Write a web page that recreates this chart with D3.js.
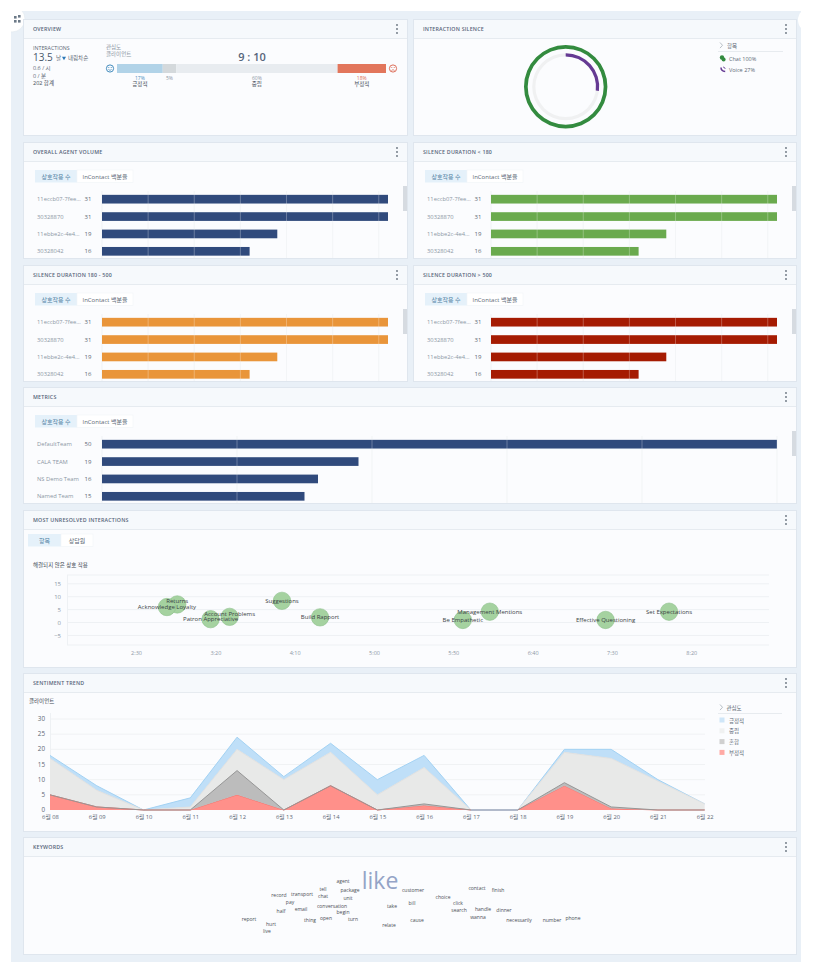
<!DOCTYPE html>
<html>
<head>
<meta charset="utf-8">
<script src="https://cdn.jsdelivr.net/npm/d3@7"></script>
<style>
  body { margin: 0; background: #fff; }
  svg { display: block; }
  text { font-family: "Open Sans", "Noto Sans CJK KR", sans-serif; }
  .axis path, .axis line { display: none; }
</style>
</head>
<body>
<svg id="board" width="813" height="975"></svg>
<script>
// overview
const sentimentNames = ['긍정적', '', '중립', '부정적'];
const sentimentShares = [17, 5, 60, 18];
const overviewLines = ['0.6 / 시', '0 / 분', '202 합계'];

// interaction silence
const channelNames = ['Chat', 'Voice'];
const channelShares = [100, 27];

// bar panels
const agentNames = ['11eccb07-7fee...', '30328870', '11ebbe2c-4e4...', '30328042'];
const agentCounts = [31, 31, 19, 16];
const teamNames = ['DefaultTeam', 'CALA TEAM', 'NS Demo Team', 'Named Team'];
const teamCounts = [50, 19, 16, 15];

// unresolved interactions
const topicNames = ['Returns', 'Acknowledge Loyalty', 'Patron Appreciative', 'Account Problems', 'Suggestions',
  'Build Rapport', 'Be Empathetic', 'Management Mentions', 'Effective Questioning', 'Set Expectations'];
const topicSeconds = [176, 169.5, 197, 209, 242, 266, 356, 373, 446, 486];
const topicUnresolved = [7, 6, 1.3, 2.2, 8.4, 2, 1, 4.2, 1, 4.2];
const topicTickSeconds = [150, 200, 250, 300, 350, 400, 450, 500];
const topicTickLabels = ['2:30', '3:20', '4:10', '5:00', '5:50', '6:40', '7:30', '8:20'];
const topicYTicks = [-5, 0, 5, 10, 15];

// sentiment trend
const trendDays = ['6월 08', '6월 09', '6월 10', '6월 11', '6월 12', '6월 13', '6월 14', '6월 15',
  '6월 16', '6월 17', '6월 18', '6월 19', '6월 20', '6월 21', '6월 22'];
const trendNegative = [5, 1, 0, 0, 5, 0, 8, 0, 1.5, 0, 0, 8, 0.5, 0, 0];
const trendMixed =    [0, 0, 0, 0, 8, 0, 0, 0, 0.5, 0, 0, 1, 0.5, 0, 0];
const trendNeutral =  [12, 5.5, 0, 1, 7, 10, 11, 5, 12, 0, 0, 10, 16, 9.5, 2];
const trendPositive = [1, 1.5, 0, 3, 4, 1, 3, 5, 4, 0, 0, 1, 3, 0.5, 0];
const trendYTicks = [0, 5, 10, 15, 20, 25, 30];

// keywords
const keywords = ['like', 'agent', 'package', 'customer', 'contact', 'finish', 'tell', 'record', 'transport', 'chat',
  'unit', 'choice', 'pay', 'bill', 'click', 'conversation', 'take', 'email', 'half', 'begin', 'search', 'handle',
  'dinner', 'wanna', 'report', 'open', 'turn', 'thing', 'cause', 'necessarily', 'number', 'phone', 'hurt', 'relate', 'live'];
const keywordCounts = keywords.map(w => w === 'like' ? 8 : 1);

// where the cloud put each word, in page pixels (same order as keywords)
const cloudSpots = [[380, 889], [343, 883], [350, 892], [413, 892], [477, 890], [498, 892], [323, 891], [279, 897], [302, 896],
  [323, 898], [348, 900], [443, 899], [290, 904], [412, 905], [458, 905], [332, 908], [392, 908], [301, 911], [281, 913],
  [343, 914], [459, 912], [483, 911], [504, 912], [478, 919], [249, 921], [326, 920], [353, 921], [310, 922], [417, 922],
  [519, 922], [552, 922], [573, 920], [271, 926], [389, 927], [267, 933]];

const svg = d3.select('#board');
const TEXT = '#5b6875';
const MUTED = '#8b97a4';

// page background and the two corner tabs
svg.append('rect').attr('x', 11).attr('y', 11).attr('width', 790).attr('height', 951).attr('fill', '#e9f0f7');
svg.append('circle').attr('cx', 12).attr('cy', 19).attr('r', 13).attr('fill', '#fff').attr('stroke', '#dde5ed').attr('stroke-width', 0.6);
svg.append('rect').attr('x', 0).attr('y', 0).attr('width', 11).attr('height', 40).attr('fill', '#fff');
svg.append('rect').attr('x', 0).attr('y', 0).attr('width', 30).attr('height', 11).attr('fill', '#fff');
svg.append('circle').attr('cx', 810).attr('cy', 20).attr('r', 12).attr('fill', '#fff');
[[14, 16], [18, 16], [14, 20], [18, 20]].forEach((p, i) => {
  svg.append('rect').attr('x', p[0]).attr('y', p[1] + (i == 1 ? -1 : 0)).attr('width', 2.6).attr('height', 2.6)
    .attr('fill', '#6c7a88');
});

function label(g, x, y, str, size, color, anchor, weight) {
  return g.append('text').attr('x', x).attr('y', y).attr('font-size', size).attr('fill', color || TEXT)
    .attr('text-anchor', anchor || 'start').attr('font-weight', weight || 400).text(str);
}

let clipId = 0;
function panel(x, y, w, h, title) {
  const id = 'clip' + (clipId++);
  svg.append('clipPath').attr('id', id).append('rect').attr('x', x).attr('y', y).attr('width', w).attr('height', h);
  svg.append('rect').attr('x', x - 0.5).attr('y', y - 0.5).attr('width', w + 1).attr('height', h + 1)
    .attr('fill', 'none').attr('stroke', '#dfe6ee');
  const g = svg.append('g').attr('clip-path', `url(#${id})`);
  g.append('rect').attr('x', x).attr('y', y).attr('width', w).attr('height', h).attr('fill', '#fbfcfe');
  g.append('rect').attr('x', x).attr('y', y).attr('width', w).attr('height', 18).attr('fill', '#f6f9fc');
  g.append('line').attr('x1', x).attr('x2', x + w).attr('y1', y + 18.5).attr('y2', y + 18.5).attr('stroke', '#e6ebf0');
  label(g, x + 9, y + 11, title, 5.3, '#56657a', 'start', 600).attr('letter-spacing', 0.2);
  [5, 9, 13].forEach(d => {
    g.append('circle').attr('cx', x + w - 10).attr('cy', y + d).attr('r', 0.9).attr('fill', '#66717d');
  });
  return g;
}

function tabs(g, x, y, names, widths) {
  let cur = x;
  names.forEach((n, i) => {
    g.append('rect').attr('x', cur).attr('y', y).attr('width', widths[i]).attr('height', 12.5)
      .attr('fill', i == 0 ? '#e5f1fa' : '#fff').attr('stroke', i == 0 ? 'none' : '#f1f4f7').attr('stroke-width', 0.6);
    label(g, cur + widths[i] / 2, y + 8.5, n, 6, i == 0 ? '#4f7fa3' : TEXT, 'middle');
    cur += widths[i];
  });
}

function barPanel(x, y, w, h, title, names, counts, color, opt) {
  const g = panel(x, y, w, h, title);
  tabs(g, x + 11, y + 27, ['상호작용 수', 'InContact 백분율'], [42, 56]);

  const xScale = d3.scaleLinear().domain([0, d3.max(counts)]).range([x + opt.barLeft, x + opt.barRight]);
  const yScale = d3.scaleBand().domain(names).range([y + 47.5, y + 117]).paddingInner(0.5).paddingOuter(0.25);

  const ticks = d3.range(0, d3.max(counts) + 1, opt.step);
  g.selectAll('.grid').data(ticks).join('line')
    .attr('x1', d => xScale(d)).attr('x2', d => xScale(d))
    .attr('y1', y + 48).attr('y2', y + h).attr('stroke', '#eff2f5');

  g.selectAll('.bar').data(counts).join('rect')
    .attr('x', xScale(0)).attr('y', (d, i) => yScale(names[i]))
    .attr('width', d => xScale(d) - xScale(0)).attr('height', yScale.bandwidth())
    .attr('fill', color);

  // grid shows through the bars as thin pale lines
  g.selectAll('.over').data(ticks.slice(1)).join('line')
    .attr('x1', d => xScale(d)).attr('x2', d => xScale(d))
    .attr('y1', y + 48).attr('y2', y + h).attr('stroke', '#fff').attr('stroke-opacity', 0.28);

  names.forEach((n, i) => {
    const mid = yScale(n) + yScale.bandwidth() / 2 + 2;
    label(g, x + 13, mid, n, 5.8, MUTED);
    label(g, x + 64, mid, counts[i], 6, TEXT, 'middle');
  });

  g.append('rect').attr('x', x + w - 4).attr('y', y + 43).attr('width', 4).attr('height', 25).attr('fill', '#d6dbe1');
}

// ---- overview ----
{
  const g = panel(24, 20, 383, 115, 'OVERVIEW');
  label(g, 33, 50, 'INTERACTIONS', 5.3, TEXT);
  label(g, 33, 61, '13.5', 10, '#46566a');
  label(g, 56, 60, '날', 5.5, TEXT);
  g.append('path').attr('d', d3.symbol(d3.symbolTriangle, 7)()).attr('transform', 'translate(64,58) rotate(180)').attr('fill', '#2c77b7');
  label(g, 68, 60, '내림차순', 5.5, TEXT);
  overviewLines.forEach((s, i) => label(g, 33, 70 + i * 7.7, s, 5.5, i == 2 ? '#3d4853' : TEXT));
  label(g, 106, 49, '관심도', 5.5, MUTED);
  label(g, 106, 56, '클라이언트', 5.5, MUTED);
  label(g, 252, 61, '9 : 10', 11, '#56657a', 'middle', 600);

  const xScale = d3.scaleLinear().domain([0, 100]).range([117, 386]);
  const stacked = d3.cumsum(sentimentShares);
  const colors = ['#b1d3e8', '#d4d9dc', '#e8ecf0', '#e2765c'];
  const pctColors = ['#4d90bd', MUTED, MUTED, '#dd6a55'];
  g.selectAll('.seg').data(sentimentShares).join('rect')
    .attr('x', (d, i) => xScale(stacked[i] - d)).attr('y', 64)
    .attr('width', d => xScale(d) - xScale(0)).attr('height', 9)
    .attr('fill', (d, i) => colors[i]);
  sentimentShares.forEach((d, i) => {
    const mid = xScale(stacked[i] - d / 2);
    label(g, mid, 80, d + '%', 5, pctColors[i], 'middle');
    if (sentimentNames[i]) label(g, mid, 86, sentimentNames[i], 5.5, '#3d4853', 'middle');
  });

  // smiley faces either side of the bar
  const face = (cx, color, mouth) => {
    g.append('circle').attr('cx', cx).attr('cy', 68.5).attr('r', 3.6).attr('fill', 'none').attr('stroke', color).attr('stroke-width', 0.9);
    [-1.2, 1.2].forEach(d => g.append('circle').attr('cx', cx + d).attr('cy', 67.5).attr('r', 0.5).attr('fill', color));
    g.append('path').attr('d', `M${cx - 1.6},${mouth ? 69.4 : 70.6}Q${cx},${mouth ? 71.4 : 68.6} ${cx + 1.6},${mouth ? 69.4 : 70.6}`)
      .attr('fill', 'none').attr('stroke', color).attr('stroke-width', 0.7);
  };
  face(110, '#2f7fb5', true);
  face(393, '#d9604a', false);
}

// ---- interaction silence ----
{
  const g = panel(414, 20, 382, 115, 'INTERACTION SILENCE');
  const center = g.append('g').attr('transform', 'translate(565.7,86.7)');
  const angle = d3.scaleLinear().domain([0, 100]).range([0, 2 * Math.PI]);
  const outer = d3.arc().innerRadius(38).outerRadius(41.7).padAngle(0.03);
  const inner = d3.arc().innerRadius(30.3).outerRadius(33.5);
  center.append('path').attr('d', inner({ startAngle: 0, endAngle: 2 * Math.PI })).attr('fill', '#f0f1f2');
  center.append('path').attr('d', outer({ startAngle: 0, endAngle: angle(channelShares[0]) })).attr('fill', '#338b3f');
  center.append('path').attr('d', inner({ startAngle: 0, endAngle: angle(channelShares[1]) })).attr('fill', '#653a93');

  g.append('path').attr('d', 'M720,42.5l2.5,2.8l-2.5,2.8').attr('fill', 'none').attr('stroke', '#9aa4ae').attr('stroke-width', 0.7);
  label(g, 727, 48, '항목', 5.5, TEXT);
  g.append('line').attr('x1', 718).attr('x2', 783).attr('y1', 51.5).attr('y2', 51.5).attr('stroke', '#e7ebef');
  channelNames.forEach((n, i) => label(g, 729, 60.5 + i * 11, `${n} ${channelShares[i]}%`, 5.5, TEXT));
  g.append('circle').attr('cx', 722).attr('cy', 57.5).attr('r', 2.2).attr('fill', '#338b3f');
  g.append('circle').attr('cx', 723.6).attr('cy', 59.5).attr('r', 2).attr('fill', '#338b3f');
  g.append('path').attr('d', 'M721,67.5q0,3.6 4.2,4').attr('fill', 'none').attr('stroke', '#653a93').attr('stroke-width', 1.5);
  g.append('path').attr('d', 'M723,67q2,0 2.2,2').attr('fill', 'none').attr('stroke', '#653a93').attr('stroke-width', 0.8);
}

// ---- the bar panels ----
const leftBars = { barLeft: 78, barRight: 364, step: 5 };
const rightBars = { barLeft: 77, barRight: 363, step: 5 };
barPanel(24, 143, 383, 115, 'OVERALL AGENT VOLUME', agentNames, agentCounts, '#304a7c', leftBars);
barPanel(414, 143, 382, 115, 'SILENCE DURATION < 180', agentNames, agentCounts, '#6aaa4e', rightBars);
barPanel(24, 266, 383, 115, 'SILENCE DURATION 180 - 500', agentNames, agentCounts, '#e9953a', leftBars);
barPanel(414, 266, 382, 115, 'SILENCE DURATION > 500', agentNames, agentCounts, '#a51b02', rightBars);
barPanel(24, 388, 772, 115, 'METRICS', teamNames, teamCounts, '#304a7c', { barLeft: 78, barRight: 753, step: 10 });

// ---- most unresolved interactions ----
{
  const g = panel(24, 511, 772, 156, 'MOST UNRESOLVED INTERACTIONS');
  tabs(g, 28, 534, ['항목', '상담원'], [33, 32]);
  label(g, 33, 567, '해결되지 않은 상호 작용', 5.5, '#3d4853');

  const xScale = d3.scaleLinear().domain([106.5, 549]).range([67, 769]);
  const yScale = d3.scaleLinear().domain([-8.7, 18.4]).range([645, 575]);

  g.append('line').attr('x1', 67.5).attr('x2', 67.5).attr('y1', 575).attr('y2', 645).attr('stroke', '#eef1f4');
  g.selectAll('.hgrid').data([18.4, -8.7].concat(topicYTicks)).join('line')
    .attr('x1', 67).attr('x2', 769).attr('y1', d => yScale(d)).attr('y2', d => yScale(d)).attr('stroke', '#eef1f4');

  g.append('g').attr('class', 'axis').attr('transform', 'translate(61,0)')
    .call(d3.axisLeft(yScale).tickValues(topicYTicks).tickSize(0).tickPadding(0))
    .call(a => a.selectAll('text').attr('font-size', 6).attr('fill', MUTED));
  g.append('g').attr('class', 'axis').attr('transform', 'translate(0,651)')
    .call(d3.axisBottom(xScale).tickValues(topicTickSeconds).tickSize(0).tickPadding(0)
      .tickFormat((d, i) => topicTickLabels[i]))
    .call(a => a.selectAll('text').attr('font-size', 5.5).attr('fill', MUTED));

  g.selectAll('.dot').data(topicNames).join('circle')
    .attr('cx', (d, i) => xScale(topicSeconds[i])).attr('cy', (d, i) => yScale(topicUnresolved[i]))
    .attr('r', 8.7).attr('fill', '#a5d2a0').attr('stroke', '#8cbf8a').attr('stroke-width', 0.6);

  // the chart pushes these two labels up so they don't collide
  const nudged = { 'Returns': -3, 'Account Problems': -3 };
  topicNames.forEach((n, i) => {
    label(g, xScale(topicSeconds[i]), yScale(topicUnresolved[i]) + 2 + (nudged[n] || 0), n, 6, '#3a3f44', 'middle');
  });
}

// ---- sentiment trend ----
{
  const g = panel(24, 674, 772, 157, 'SENTIMENT TREND');
  label(g, 29, 703, '클라이언트', 5.5, '#3d4853');

  const xScale = d3.scalePoint().domain(trendDays).range([50, 704.7]);
  const yScale = d3.scaleLinear().domain([0, 30]).range([810, 719]);

  g.selectAll('.hgrid').data(trendYTicks.slice(1)).join('line')
    .attr('x1', 50).attr('x2', 705).attr('y1', d => yScale(d)).attr('y2', d => yScale(d)).attr('stroke', '#f0f2f4');
  g.append('line').attr('x1', 50.5).attr('x2', 50.5).attr('y1', 713).attr('y2', 810).attr('stroke', '#eef1f4');

  const rows = trendDays.map((d, i) => ({
    day: d, negative: trendNegative[i], mixed: trendMixed[i], neutral: trendNeutral[i], positive: trendPositive[i]
  }));
  const keys = ['negative', 'mixed', 'neutral', 'positive'];
  const fills = { negative: '#ff908a', mixed: '#bcbcbc', neutral: '#e8e9e8', positive: '#bfdff8' };
  const edges = { negative: '#f9726c', mixed: '#969696', neutral: '#e0e1e1', positive: '#a3d2f3' };
  const series = d3.stack().keys(keys)(rows);

  const area = d3.area().x(d => xScale(d.data.day)).y0(d => yScale(d[0])).y1(d => yScale(d[1]));
  const topLine = d3.line().x(d => xScale(d.data.day)).y(d => yScale(d[1]));

  // positive first, mixed last: the grey edge sits on top of the red one
  ['positive', 'neutral', 'negative', 'mixed'].forEach(k => {
    const s = series.find(v => v.key === k);
    g.append('path').attr('d', area(s)).attr('fill', fills[k]);
    g.append('path').attr('d', topLine(s)).attr('fill', 'none').attr('stroke', edges[k]).attr('stroke-width', 1);
  });

  // runs of empty days keep the blue edge along the baseline
  const emptyRun = d3.line().defined(d => d[1] === 0).x(d => xScale(d.data.day)).y(d => yScale(d[1]));
  g.append('path').attr('d', emptyRun(series[3])).attr('fill', 'none').attr('stroke', edges.positive).attr('stroke-width', 1);

  g.append('g').attr('class', 'axis').attr('transform', 'translate(45,-0.5)')
    .call(d3.axisLeft(yScale).tickValues(trendYTicks).tickSize(0).tickPadding(0))
    .call(a => a.selectAll('text').attr('font-size', 6.3).attr('fill', TEXT));
  g.append('g').attr('class', 'axis').attr('transform', 'translate(0,815)')
    .call(d3.axisBottom(xScale).tickSize(0).tickPadding(0))
    .call(a => a.selectAll('text').attr('font-size', 5.8).attr('fill', TEXT));

  g.append('path').attr('d', 'M720,704.5l2.5,2.8l-2.5,2.8').attr('fill', 'none').attr('stroke', '#9aa4ae').attr('stroke-width', 0.7);
  label(g, 726.5, 709.5, '관심도', 5.5, TEXT);
  g.append('line').attr('x1', 718).attr('x2', 782).attr('y1', 713.5).attr('y2', 713.5).attr('stroke', '#e7ebef');
  const legendNames = ['긍정적', '중립', '혼합', '부정적'];
  const legendColors = ['#cfe6f8', '#f0f1f1', '#d0d0d0', '#ffaaa5'];
  legendNames.forEach((n, i) => {
    g.append('rect').attr('x', 719.5).attr('y', 717.5 + i * 10.8).attr('width', 5).attr('height', 5).attr('fill', legendColors[i]);
    label(g, 729, 722.5 + i * 10.8, n, 5.5, TEXT);
  });
}

// ---- keywords ----
{
  const g = panel(24, 838, 772, 116, 'KEYWORDS');
  const size = d3.scaleLinear().domain([1, 8]).range([5, 23]);
  g.selectAll('.word').data(keywords).join('text')
    .attr('x', (d, i) => cloudSpots[i][0]).attr('y', (d, i) => cloudSpots[i][1])
    .attr('text-anchor', 'middle')
    .attr('font-size', (d, i) => size(keywordCounts[i]))
    .attr('fill', (d, i) => keywordCounts[i] > 1 ? '#94a4c7' : '#4a4f55')
    .text(d => d);
}
</script>
</body>
</html>
